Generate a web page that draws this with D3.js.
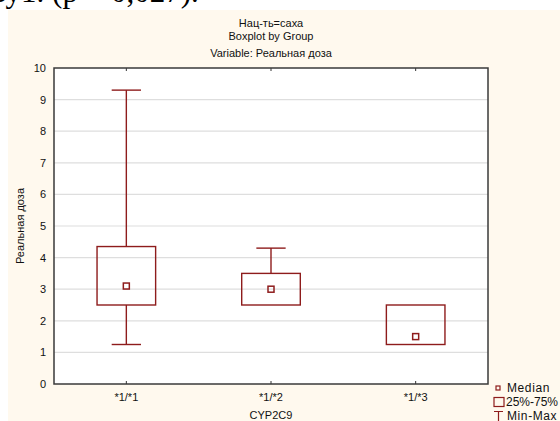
<!DOCTYPE html>
<html>
<head>
<meta charset="utf-8">
<script src="https://cdn.jsdelivr.net/npm/d3@7"></script>
<style>
  body { margin: 0; background: #fff; }
  svg { display: block; }
</style>
</head>
<body>
<script>
// data
const groups = ["*1/*1", "*1/*2", "*1/*3"];
const medians = [3.1, 3.0, 1.5];
const q1 = [2.5, 2.5, 1.25];
const q3 = [4.35, 3.5, 2.5];
const mins = [1.25, 2.5, 1.25];
const maxs = [9.3, 4.3, 2.5];
const yTicks = [0, 1, 2, 3, 4, 5, 6, 7, 8, 9, 10];
const titles = ["Нац-ть=саха", "Boxplot by Group", "Variable: Реальная доза"];

const W = 560, H = 421;
const margin = { left: 54, top: 68, right: 72, bottom: 37 };
const pw = W - margin.left - margin.right;
const ph = H - margin.top - margin.bottom;
const red = "#8e1c1c";
const font = "Liberation Sans, Arial, sans-serif";

const svg = d3.select("body").append("svg")
    .attr("width", W)
    .attr("height", H);

// cream page behind the chart
svg.append("rect")
    .attr("x", 8).attr("y", 10)
    .attr("width", W - 8).attr("height", H - 10)
    .attr("fill", "#fff9ee");

// leftover line of the document above the figure
svg.append("text")
    .attr("x", -6).attr("y", 2)
    .attr("font-family", "Liberation Serif, Times New Roman, serif")
    .attr("font-size", 31)
    .attr("fill", "#000")
    .text("зу1. (р = 0,027).");

const x = d3.scaleBand().domain(groups).range([0, pw]);
const y = d3.scaleLinear().domain([0, 10]).range([ph, 0]);

const g = svg.append("g")
    .attr("transform", "translate(" + margin.left + "," + margin.top + ")");

g.append("rect")
    .attr("width", pw).attr("height", ph)
    .attr("fill", "#fff");

// grid
g.selectAll(".grid")
    .data(yTicks.slice(1, -1))
    .enter().append("line")
    .attr("x1", 0).attr("x2", pw)
    .attr("y1", d => y(d)).attr("y2", d => y(d))
    .attr("stroke", "#dedede")
    .attr("stroke-width", 1.2);

// axes
const yAxis = d3.axisLeft(y).tickValues(yTicks).tickSize(0).tickPadding(8);
const xAxis = d3.axisBottom(x).tickSize(3).tickPadding(6);

const ya = g.append("g").call(yAxis);
ya.select(".domain").remove();
ya.selectAll("text").attr("font-family", font).attr("font-size", 11).attr("fill", "#111");

const xa = g.append("g")
    .attr("transform", "translate(0," + ph + ")")
    .call(xAxis);
xa.select(".domain").remove();
xa.selectAll("line").attr("y1", -3).attr("y2", 0).attr("stroke", "#333");
xa.selectAll("text").attr("font-family", font).attr("font-size", 11).attr("fill", "#111");

// top ticks
g.selectAll(".ttick")
    .data(groups)
    .enter().append("line")
    .attr("x1", d => x(d) + x.bandwidth() / 2).attr("x2", d => x(d) + x.bandwidth() / 2)
    .attr("y1", 0).attr("y2", 3)
    .attr("stroke", "#333");

// frame
g.append("rect")
    .attr("width", pw).attr("height", ph)
    .attr("fill", "none")
    .attr("stroke", "#3a3a3a")
    .attr("stroke-width", 1.5);

// boxes
const bw = x.bandwidth() * 0.405;
const cw = bw / 2;
const rows = groups.map((k, i) => ({
    k: k, med: medians[i], q1: q1[i], q3: q3[i], lo: mins[i], hi: maxs[i]
}));

const box = g.selectAll(".box")
    .data(rows)
    .enter().append("g")
    .attr("transform", d => "translate(" + (x(d.k) + x.bandwidth() / 2) + ",0)")
    .attr("stroke", red)
    .attr("stroke-width", 1.4)
    .attr("fill", "none");

box.append("line")
    .attr("y1", d => y(d.hi)).attr("y2", d => y(d.q3));
box.append("line")
    .attr("y1", d => y(d.q1)).attr("y2", d => y(d.lo));
box.filter(d => d.hi > d.q3).append("line")
    .attr("x1", -cw / 2).attr("x2", cw / 2)
    .attr("y1", d => y(d.hi)).attr("y2", d => y(d.hi));
box.filter(d => d.lo < d.q1).append("line")
    .attr("x1", -cw / 2).attr("x2", cw / 2)
    .attr("y1", d => y(d.lo)).attr("y2", d => y(d.lo));
box.append("rect")
    .attr("x", -bw / 2).attr("width", bw)
    .attr("y", d => y(d.q3))
    .attr("height", d => y(d.q1) - y(d.q3));
box.append("rect")
    .attr("x", -3).attr("width", 6)
    .attr("y", d => y(d.med) - 3).attr("height", 6)
    .attr("stroke-width", 1.5);

// titles
svg.selectAll(".title")
    .data(titles)
    .enter().append("text")
    .attr("x", margin.left + pw / 2)
    .attr("y", (d, i) => [27, 40, 57][i])
    .attr("text-anchor", "middle")
    .attr("font-family", font)
    .attr("font-size", 11)
    .attr("fill", "#111")
    .text(d => d);

svg.append("text")
    .attr("transform", "translate(24," + (margin.top + ph / 2) + ") rotate(-90)")
    .attr("text-anchor", "middle")
    .attr("font-family", font)
    .attr("font-size", 11)
    .attr("fill", "#111")
    .text("Реальная доза");

svg.append("text")
    .attr("x", margin.left + pw / 2)
    .attr("y", 419)
    .attr("text-anchor", "middle")
    .attr("font-family", font)
    .attr("font-size", 11)
    .attr("fill", "#111")
    .text("CYP2C9");

// legend
const lg = svg.append("g")
    .attr("font-family", font)
    .attr("font-size", 12)
    .attr("fill", "#111");
lg.append("rect")
    .attr("x", 496).attr("y", 386).attr("width", 4).attr("height", 4)
    .attr("fill", "none").attr("stroke", red).attr("stroke-width", 1.2);
lg.append("text").attr("x", 507).attr("y", 392).attr("letter-spacing", 0.6).text("Median");
lg.append("rect")
    .attr("x", 494).attr("y", 397.5).attr("width", 10).attr("height", 9)
    .attr("fill", "none").attr("stroke", red).attr("stroke-width", 1.2);
lg.append("text").attr("x", 506).attr("y", 406).text("25%-75%");
lg.append("path")
    .attr("d", "M494,411.5H503M498.5,411.5V421")
    .attr("fill", "none").attr("stroke", red).attr("stroke-width", 1.2);
lg.append("text").attr("x", 507).attr("y", 420).attr("letter-spacing", 0.6).text("Min-Max");
</script>
</body>
</html>
